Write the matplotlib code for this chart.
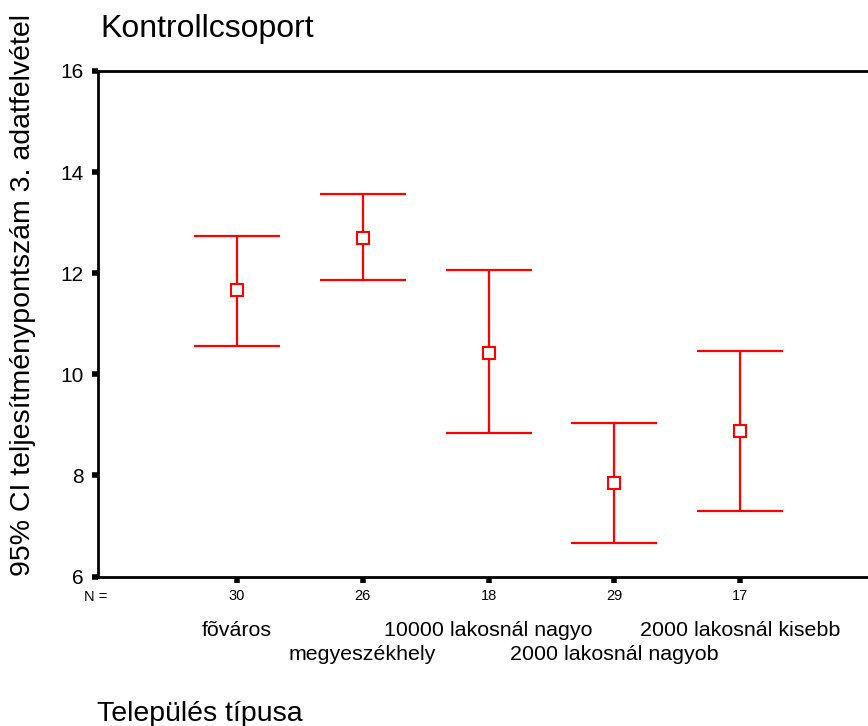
import matplotlib
matplotlib.use("Agg")
import matplotlib.pyplot as plt
from matplotlib.transforms import blended_transform_factory

plt.rcParams['font.family'] = ['Liberation Sans', 'DejaVu Sans']

categories = ["fõváros", "megyeszékhely", "10000 lakosnál nagyo",
              "2000 lakosnál nagyob", "2000 lakosnál kisebb"]
counts = [30, 26, 18, 29, 17]
means = [11.66, 12.69, 10.43, 7.85, 8.88]
upper = [12.73, 13.57, 12.06, 9.04, 10.47]
lower = [10.55, 11.86, 8.84, 6.66, 7.30]
yticks = [6, 8, 10, 12, 14, 16]

W, H = 868, 726
fig = plt.figure(figsize=(W / 100, H / 100), dpi=100)
ax_left, ax_right, ax_top, ax_bottom = 97.5, 879.5, 71, 576.5
ax = fig.add_axes([ax_left / W, (H - ax_bottom) / H,
                   (ax_right - ax_left) / W, (ax_bottom - ax_top) / H])

xs = list(range(1, len(categories) + 1))
red = '#ff0000'
yerr = [[m - l for m, l in zip(means, lower)], [u - m for u, m in zip(upper, means)]]
ax.errorbar(xs, means, yerr=yerr, fmt='none', ecolor=red, elinewidth=1.6,
            capsize=31, capthick=1.6)
ax.plot(xs, means, linestyle='none', marker='s', markersize=8.5,
        markerfacecolor='white', markeredgecolor=red, markeredgewidth=1.5, zorder=5)

ax.set_xlim(-0.109, 6.109)
ax.set_ylim(6, 16)
ax.set_yticks(yticks)
ax.set_yticklabels([str(t) for t in yticks], fontsize=15)
ax.set_xticks(xs)
ax.set_xticklabels([str(c) for c in counts], fontsize=10.5)
ax.tick_params(axis='both', direction='out', length=4, width=4, color='black')
ax.tick_params(axis='y', pad=6)
ax.tick_params(axis='x', pad=5)
for s in ax.spines.values():
    s.set_linewidth(2)
    s.set_color('black')

trans = blended_transform_factory(ax.transData, fig.transFigure)
fig.text(84 / W, 1 - 597 / H, "N =", fontsize=10.5, ha='left', va='center')
for i, (x, c) in enumerate(zip(xs, categories)):
    ypix = 636.5 if i % 2 == 0 else 660
    ax.text(x, 1 - ypix / H, c, transform=trans, fontsize=15.4,
            ha='center', va='baseline')

fig.text(100 / W, 1 - 37 / H, "Kontrollcsoport", fontsize=23, ha='left', va='baseline')
fig.text(97 / W, 1 - 721 / H, "Település típusa", fontsize=20.5, ha='left', va='baseline')
fig.text(23 / W, 1 - 295 / H, "95% CI teljesítménypontszám 3. adatfelvétel",
         fontsize=20.5, rotation=90, ha='center', va='center')

fig.savefig("out.png", dpi=100)
